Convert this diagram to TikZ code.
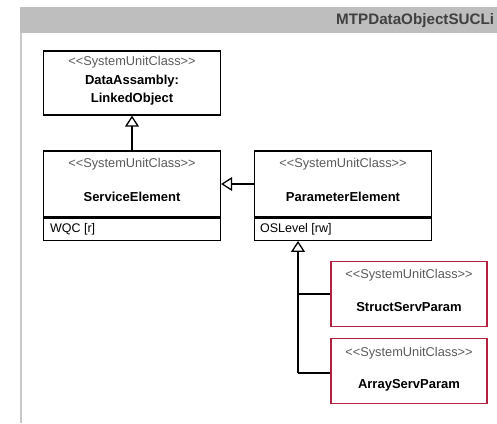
\documentclass[tikz,border=0pt]{standalone}
\usepackage{fontspec}
\setmainfont{Liberation Sans}
\usetikzlibrary{positioning,calc,arrows.meta}

\definecolor{headgray}{RGB}{190,190,190}
\definecolor{framegray}{RGB}{200,200,200}
\definecolor{sucred}{RGB}{178,34,64}
\definecolor{stereogray}{RGB}{90,90,90}

\begin{document}
\begin{tikzpicture}[x=1pt,y=-1pt,
    classbox/.style={draw, line width=1.3pt, minimum width=177pt, minimum height=66pt, inner sep=0pt},
    attrbox/.style={draw, line width=1.3pt, minimum width=177pt, minimum height=22pt, inner sep=0pt},
    subbox/.style={draw=sucred, line width=1.3pt, minimum width=156pt, minimum height=65pt, inner sep=0pt},
    stereo/.style={text=stereogray, font=\fontsize{12.8}{14}\selectfont},
    clname/.style={font=\fontsize{13}{15}\selectfont\bfseries, align=center},
    attr/.style={font=\fontsize{12.5}{14}\selectfont, anchor=west, inner sep=0pt},
    inherit/.style={line width=1.3pt, -{Triangle[open, width=14pt, length=11pt, line width=1.3pt]}},
    branch/.style={line width=1.3pt}]

    % canvas
    \useasboundingbox (0,0) rectangle (497,423);
    \clip (0,0) rectangle (497,423);

    % library frame with header
    \fill[headgray] (20,7) rectangle (500,33);
    \draw[framegray, line width=2pt] (21,33) -- (21,423);
    \node[font=\fontsize{15.2}{17}\selectfont\bfseries, text=black!75, anchor=west, inner sep=0pt] (libtitle) at (336,21) {MTPDataObjectSUCLi};

    % DataAssambly:LinkedObject
    \node[classbox, minimum height=64pt] (linked) at (132,83) {};
    \node[stereo] (linkedst) at ($(linked.north)+(0,12)$) {<{}<SystemUnitClass>{}>};
    \node[clname] (linkedname) at ($(linked.north)+(0,40)$) {DataAssambly:\\[3pt]LinkedObject};

    % ServiceElement
    \node[classbox] (service) at (132,184) {};
    \node[attrbox, below=0pt of service] (serviceattr) {};
    \node[stereo] (servicest) at ($(service.north)+(0,14)$) {<{}<SystemUnitClass>{}>};
    \node[clname] (servicename) at ($(service.north)+(0,47)$) {ServiceElement};
    \node[attr] (wqc) at ($(serviceattr.west)+(7,0)$) {WQC [r]};

    % ParameterElement
    \node[classbox] (param) at (343,184) {};
    \node[attrbox, below=0pt of param] (paramattr) {};
    \node[stereo] (paramst) at ($(param.north)+(0,14)$) {<{}<SystemUnitClass>{}>};
    \node[clname] (paramname) at ($(param.north)+(0,47)$) {ParameterElement};
    \node[attr] (oslevel) at ($(paramattr.west)+(6,0)$) {OSLevel [rw]};

    % StructServParam
    \node[subbox] (struct) at (409,294) {};
    \node[stereo] (structst) at ($(struct.north)+(0,14)$) {<{}<SystemUnitClass>{}>};
    \node[clname] (structname) at ($(struct.north)+(0,46)$) {StructServParam};

    % ArrayServParam
    \node[subbox] (array) at (409,371) {};
    \node[stereo] (arrayst) at ($(array.north)+(0,15)$) {<{}<SystemUnitClass>{}>};
    \node[clname] (arrayname) at ($(array.north)+(0,47)$) {ArrayServParam};

    % generalisations
    \draw[inherit] (service.north) -- (linked.south);
    \draw[inherit] (param.west) -- (service.east);

    \coordinate (trunktop) at (298,0 |- paramattr.south);
    \coordinate (trunkmid) at (298,0 |- struct.west);
    \coordinate (trunkbot) at (298,373);
    \draw[inherit] (trunkbot) -- (trunktop);
    \draw[branch] (trunkmid) -- (struct.west);
    \draw[branch] (trunkbot) -- (array.west |- trunkbot);
\end{tikzpicture}
\end{document}
